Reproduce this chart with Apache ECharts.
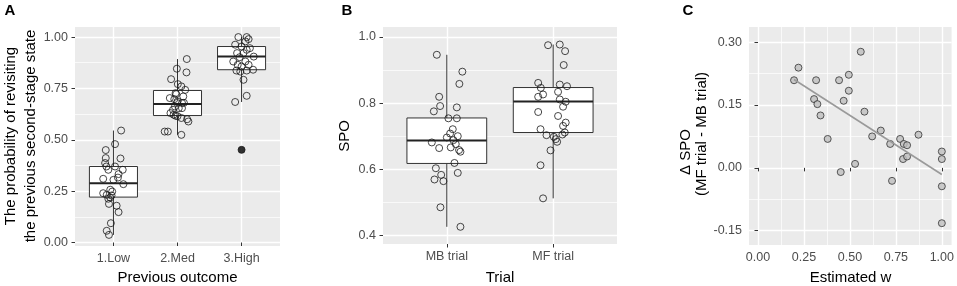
<!DOCTYPE html>
<html>
<head>
<meta charset="utf-8">
<script src="https://cdn.jsdelivr.net/npm/echarts@6/dist/echarts.min.js"></script>
<style>
  html, body { margin: 0; padding: 0; background: #fff; }
  #chart { width: 957px; height: 286px; }
</style>
</head>
<body>
<div id="chart"></div>
<script>
// ---- panel A: probability of revisiting, by previous outcome ----
const outcomeLabels = ['1.Low', '2.Med', '3.High'];
// [x, lower whisker, Q1, median, Q3, upper whisker]
const outcomeBoxes = [
  [1, 0.037, 0.221, 0.289, 0.370, 0.545],
  [2, 0.524, 0.618, 0.674, 0.740, 0.893],
  [3, 0.684, 0.841, 0.906, 0.954, 1.000]
];
const outcomeOutliers = [[3, 0.451]];
const lowPoints = [[1.12,0.545],[1.025,0.479],[0.88,0.45],[0.88,0.411],[1.11,0.409],[0.87,0.387],[0.89,0.37],[1.025,0.37],
  [1.145,0.354],[0.92,0.354],[1.08,0.333],[0.84,0.31],[1.0,0.305],[1.155,0.284],[1.07,0.316],[0.95,0.257],[0.98,0.248],
  [0.84,0.24],[0.895,0.232],[0.97,0.229],[0.92,0.213],[0.95,0.219],[0.93,0.188],[1.05,0.179],[1.08,0.148],[0.96,0.094],
  [0.895,0.057],[0.93,0.037]];
const medPoints = [[2.145,0.893],[2.14,0.828],[1.99,0.846],[1.90,0.795],[2.005,0.771],[2.06,0.76],[2.12,0.743],[1.97,0.727],
  [1.88,0.703],[2.09,0.711],[1.95,0.698],[1.98,0.722],[1.99,0.679],[2.07,0.679],[2.0,0.686],[1.96,0.662],[2.02,0.654],
  [2.07,0.654],[1.93,0.646],[1.89,0.63],[1.94,0.622],[1.97,0.617],[2.06,0.606],[2.15,0.60],[2.17,0.589],[1.80,0.54],
  [1.85,0.54],[2.06,0.524],[2.0,0.615],[2.1,0.68]];
const highPoints = [[2.95,1.0],[3.08,1.0],[3.11,0.99],[3.06,0.979],[2.90,0.963],[3.00,0.954],[3.13,0.946],[3.08,0.938],
  [2.93,0.922],[3.03,0.922],[2.97,0.902],[3.19,0.905],[2.87,0.881],[3.06,0.881],[2.94,0.865],[3.11,0.865],[3.00,0.857],
  [3.18,0.841],[2.92,0.837],[2.98,0.832],[3.08,0.837],[3.03,0.792],[2.90,0.684],[3.08,0.714],[3.0,0.451]];

// ---- panel B: SPO by trial type ----
const trialLabels = ['MB trial', 'MF trial'];
const trialBoxes = [
  [1, 0.426, 0.6175, 0.687, 0.755, 0.946],
  [2, 0.512, 0.711, 0.805, 0.847, 0.977]
];
const mbPoints = [[0.906,0.946],[1.146,0.895],[1.118,0.858],[0.928,0.819],[0.937,0.791],[0.878,0.775],[1.094,0.787],
  [1.015,0.754],[1.094,0.754],[1.056,0.721],[1.031,0.708],[1.0,0.696],[1.103,0.70],[1.062,0.688],[0.859,0.681],
  [1.084,0.676],[1.037,0.666],[0.928,0.664],[1.115,0.658],[1.128,0.653],[1.072,0.619],[0.897,0.603],[1.103,0.589],
  [0.947,0.583],[0.884,0.569],[0.968,0.564],[0.94,0.485],[1.128,0.426]];
const mfPoints = [[1.952,0.975],[2.062,0.977],[2.112,0.957],[2.099,0.915],[1.859,0.861],[1.884,0.846],[2.062,0.856],
  [2.13,0.851],[1.905,0.826],[1.859,0.819],[2.046,0.834],[2.062,0.811],[2.118,0.804],[2.093,0.789],[1.859,0.773],
  [2.046,0.761],[2.118,0.741],[2.093,0.731],[1.881,0.721],[2.109,0.711],[2.087,0.705],[1.937,0.703],[2.006,0.698],
  [2.025,0.691],[2.037,0.683],[1.975,0.657],[1.881,0.612],[1.905,0.512]];

// ---- panel C: delta SPO vs estimated w ----
const estimatedW = [0.196,0.22,0.316,0.305,0.323,0.34,0.379,0.441,0.494,0.494,0.466,0.559,0.579,0.45,0.528,
  0.621,0.668,0.719,0.729,0.773,0.793,0.811,0.789,0.811,0.873,1.0,1.0,1.0,1.0];
const deltaSpo = [0.209,0.239,0.209,0.164,0.152,0.125,0.069,0.209,0.222,0.184,0.16,0.277,0.134,-0.010,0.0095,
  0.075,0.089,0.057,-0.031,0.069,0.057,0.054,0.021,0.027,0.079,0.039,0.021,-0.044,-0.132];

const ticksA = [0, 0.25, 0.5, 0.75, 1];
const minorA = [0.125, 0.375, 0.625, 0.875];
const ticksB = [0.4, 0.6, 0.8, 1.0];
const minorB = [0.5, 0.7, 0.9];
const ticksCx = [0, 0.25, 0.5, 0.75, 1];
const minorCx = [0.125, 0.375, 0.625, 0.875];
const ticksCy = [-0.15, 0, 0.15, 0.30];
const minorCy = [-0.075, 0.075, 0.225];

const FONT = 'Liberation Sans, Arial, sans-serif';
const PANEL = '#EBEBEB';
const TICK_TXT = '#4D4D4D';

// least squares line for panel C (geom_smooth lm)
const n = estimatedW.length;
const mx = estimatedW.reduce((a, b) => a + b, 0) / n;
const my = deltaSpo.reduce((a, b) => a + b, 0) / n;
let sxy = 0, sxx = 0;
for (let i = 0; i < n; i++) {
  sxy += (estimatedW[i] - mx) * (deltaSpo[i] - my);
  sxx += (estimatedW[i] - mx) * (estimatedW[i] - mx);
}
const slope = sxy / sxx;
const wMin = Math.min(...estimatedW), wMax = Math.max(...estimatedW);
const fitLine = [[wMin, my + slope * (wMin - mx)], [wMax, my + slope * (wMax - mx)]];

function renderBox(params, api) {
  const x = api.value(0);
  const hw = 0.375;
  const top = api.coord([x, api.value(5)]);
  const q3 = api.coord([x, api.value(4)]);
  const q1 = api.coord([x, api.value(2)]);
  const bot = api.coord([x, api.value(1)]);
  const tl = api.coord([x - hw, api.value(4)]);
  const br = api.coord([x + hw, api.value(2)]);
  const ml = api.coord([x - hw, api.value(3)]);
  const mr = api.coord([x + hw, api.value(3)]);
  const stroke = { stroke: '#333', lineWidth: 1 };
  return {
    type: 'group',
    children: [
      { type: 'line', shape: { x1: top[0], y1: top[1], x2: q3[0], y2: q3[1] }, style: stroke },
      { type: 'line', shape: { x1: q1[0], y1: q1[1], x2: bot[0], y2: bot[1] }, style: stroke },
      { type: 'rect', shape: { x: tl[0], y: tl[1], width: br[0] - tl[0], height: br[1] - tl[1] },
        style: { fill: '#fff', stroke: '#333', lineWidth: 1 } },
      { type: 'line', shape: { x1: ml[0], y1: ml[1], x2: mr[0], y2: mr[1] }, style: { stroke: '#222', lineWidth: 2 } }
    ]
  };
}

function majorAxis(dim, gridIndex, min, max, ticks, fmt) {
  return {
    type: 'value', gridIndex, min, max,
    axisLine: { show: false },
    axisTick: { show: true, length: 3.5, customValues: ticks, lineStyle: { color: '#333', width: 1 } },
    axisLabel: { customValues: ticks, formatter: fmt, color: TICK_TXT, fontFamily: FONT, fontSize: 12.5,
      margin: dim === 'x' ? 6 : 7 },
    splitLine: { show: true, lineStyle: { color: '#fff', width: 1.4 } }
  };
}

function minorAxis(gridIndex, min, max, ticks) {
  return {
    type: 'value', gridIndex, min, max,
    axisLine: { show: false },
    axisTick: { show: false, customValues: ticks },
    axisLabel: { show: false, customValues: ticks },
    splitLine: { show: true, lineStyle: { color: '#fff', width: 0.7 } }
  };
}

const hollow = { color: 'rgba(0,0,0,0)', borderColor: '#1a1a1a', borderWidth: 1 };

const option = {
  animation: false,
  grid: [
    { left: 75, top: 27, width: 205, height: 219, show: true, backgroundColor: PANEL, borderWidth: 0 },
    { left: 383, top: 27, width: 234, height: 217, show: true, backgroundColor: PANEL, borderWidth: 0 },
    { left: 749, top: 27, width: 203, height: 218, show: true, backgroundColor: PANEL, borderWidth: 0 }
  ],
  xAxis: [
    majorAxis('x', 0, 0.4, 3.6, [1, 2, 3], v => outcomeLabels[Math.round(v) - 1]),
    majorAxis('x', 1, 0.4, 2.6, [1, 2], v => trialLabels[Math.round(v) - 1]),
    majorAxis('x', 2, -0.049, 1.053, ticksCx, v => v.toFixed(2)),
    minorAxis(2, -0.049, 1.053, minorCx)
  ],
  yAxis: [
    majorAxis('y', 0, -0.017, 1.049, ticksA, v => v.toFixed(2)),
    minorAxis(0, -0.017, 1.049, minorA),
    majorAxis('y', 1, 0.374, 1.030, ticksB, v => v.toFixed(1)),
    minorAxis(1, 0.374, 1.030, minorB),
    majorAxis('y', 2, -0.184, 0.336, ticksCy, v => v.toFixed(2)),
    minorAxis(2, -0.184, 0.336, minorCy)
  ],
  series: [
    { type: 'custom', xAxisIndex: 0, yAxisIndex: 0, renderItem: renderBox, data: outcomeBoxes,
      encode: { x: 0, y: [1, 2, 3, 4, 5] } },
    { type: 'scatter', xAxisIndex: 0, yAxisIndex: 0, data: outcomeOutliers, symbolSize: 7,
      itemStyle: { color: '#000' } },
    { type: 'scatter', xAxisIndex: 0, yAxisIndex: 0, data: lowPoints.concat(medPoints, highPoints),
      symbolSize: 7, itemStyle: hollow },

    { type: 'custom', xAxisIndex: 1, yAxisIndex: 2, renderItem: renderBox, data: trialBoxes,
      encode: { x: 0, y: [1, 2, 3, 4, 5] } },
    { type: 'scatter', xAxisIndex: 1, yAxisIndex: 2, data: mbPoints.concat(mfPoints),
      symbolSize: 7, itemStyle: hollow },

    { type: 'line', xAxisIndex: 2, yAxisIndex: 4, data: fitLine, symbol: 'none',
      lineStyle: { color: '#9a9a9a', width: 1.6 } },
    { type: 'scatter', xAxisIndex: 2, yAxisIndex: 4, data: estimatedW.map((w, i) => [w, deltaSpo[i]]),
      symbolSize: 7, itemStyle: { color: '#BEBEBE', borderColor: '#333', borderWidth: 1 } }
  ],
  graphic: [
    { type: 'text', x: 10, y: 11, style: { text: 'A', font: 'bold 15px ' + FONT, fill: '#000', align: 'center', verticalAlign: 'middle' } },
    { type: 'text', x: 347, y: 11, style: { text: 'B', font: 'bold 15px ' + FONT, fill: '#000', align: 'center', verticalAlign: 'middle' } },
    { type: 'text', x: 688, y: 11, style: { text: 'C', font: 'bold 15px ' + FONT, fill: '#000', align: 'center', verticalAlign: 'middle' } },

    { type: 'text', x: 11, y: 136, rotation: Math.PI / 2,
      style: { text: 'The probability of revisiting', font: '15px ' + FONT, fill: '#000', align: 'center', verticalAlign: 'middle' } },
    { type: 'text', x: 31, y: 136, rotation: Math.PI / 2,
      style: { text: 'the previous second-stage state', font: '15px ' + FONT, fill: '#000', align: 'center', verticalAlign: 'middle' } },
    { type: 'text', x: 177.5, y: 278,
      style: { text: 'Previous outcome', font: '15px ' + FONT, fill: '#000', align: 'center', verticalAlign: 'middle' } },

    { type: 'text', x: 345, y: 136, rotation: Math.PI / 2,
      style: { text: 'SPO', font: '15px ' + FONT, fill: '#000', align: 'center', verticalAlign: 'middle' } },
    { type: 'text', x: 500, y: 278,
      style: { text: 'Trial', font: '15px ' + FONT, fill: '#000', align: 'center', verticalAlign: 'middle' } },

    { type: 'text', x: 686, y: 152, rotation: Math.PI / 2,
      style: { text: 'Δ SPO', font: '15px ' + FONT, fill: '#000', align: 'center', verticalAlign: 'middle' } },
    { type: 'text', x: 702, y: 134, rotation: Math.PI / 2,
      style: { text: '(MF trial - MB trial)', font: '15px ' + FONT, fill: '#000', align: 'center', verticalAlign: 'middle' } },
    { type: 'text', x: 850.5, y: 278,
      style: { text: 'Estimated w', font: '15px ' + FONT, fill: '#000', align: 'center', verticalAlign: 'middle' } }
  ]
};

const myChart = echarts.init(document.getElementById('chart'), null, { renderer: 'canvas' });
myChart.setOption(option);
</script>
</body>
</html>
